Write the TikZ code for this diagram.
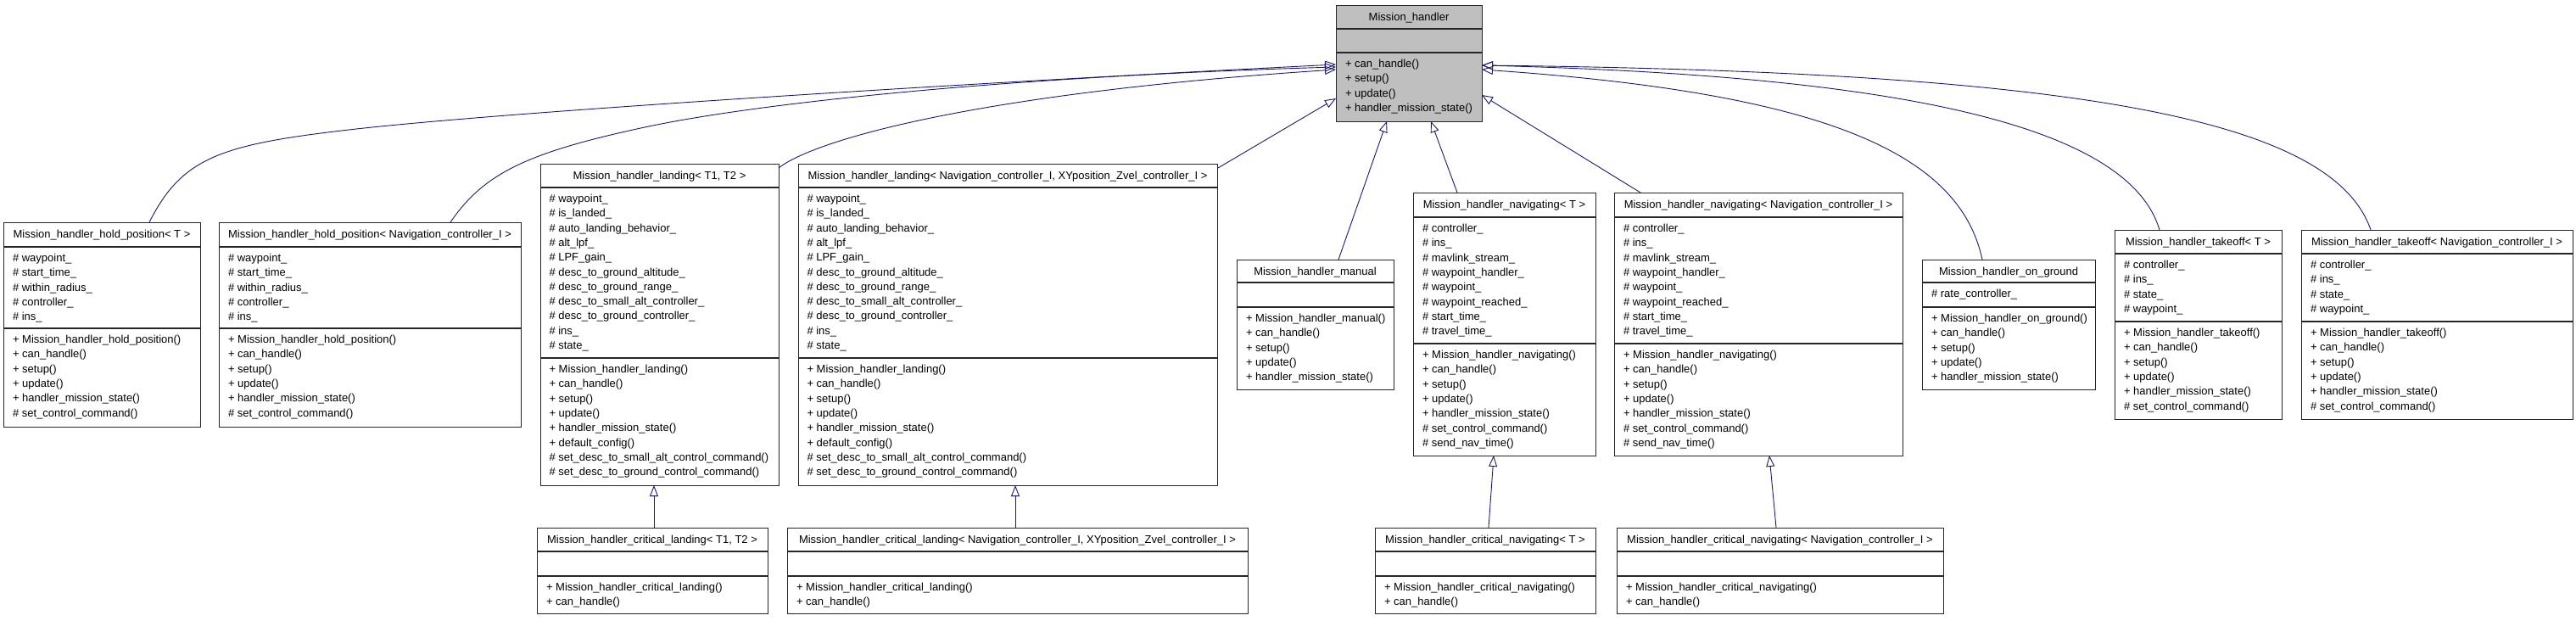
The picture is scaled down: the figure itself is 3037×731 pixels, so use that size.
\documentclass[tikz,border=0pt]{standalone}
\usepackage{fontspec}
\setmainfont{Liberation Sans}
\usetikzlibrary{arrows.meta,calc}
\definecolor{edgeblue}{HTML}{191970}
\definecolor{basegray}{HTML}{BFBFBF}
% #1 fill, #2 name, #3 x1, #4 y1, #5 x2, #6 y2, #7 div1, #8 div2, #9 title
\newcommand\ubox[9][white]{%
  \node[boxst, fill=#1, minimum width={(#5-#3)*1pt}, minimum height={(#6-#4)*1pt}, anchor=north west] (#2) at (#3,#4) {};
  \draw[divst] (#3,#7) -- (#5,#7);
  \draw[divst] (#3,#8) -- (#5,#8);
  \node[txt, anchor=base] (#2-title) at ({(#3+#5)/2},{#4+18}) {#9};
}
% #1 name prefix, #2 x, #3 first baseline, #4 list of lines
\newcommand\ulines[4]{%
  \foreach \myline [count=\i from 0] in {#4} {\node[txt, anchor=base west] (#1-\i) at (#2,{#3+\i*17.3}) {\myline};}
}
\begin{document}
\begin{tikzpicture}[x=1pt,y=-1pt,
  boxst/.style={draw=black!85, line width=1pt, inner sep=0pt, outer sep=0pt},
  divst/.style={draw=black!85, line width=1.2pt},
  txt/.style={inner sep=0pt, outer sep=0pt, font=\fontsize{13}{15}\selectfont},
  inh/.style={draw=edgeblue, line width=0.9pt, -{Triangle[open, length=13pt, width=10pt]}}]
\fill[white] (0,0) rectangle (3037,731);
\useasboundingbox (0,0) rectangle (3037,731);

% base class
\ubox[basegray]{mh}{1575}{6}{1747}{143}{34}{62}{Mission\_handler}
\ulines{mhm}{1586}{79.5}{+ can\_handle(), + setup(), + update(), + handler\_mission\_state()}

% hold position
\ubox{hpT}{4}{262}{236}{503}{291}{387}{Mission\_handler\_hold\_position< T >}
\ulines{hpTa}{15}{308.5}{\# waypoint\_, \# start\_time\_, \# within\_radius\_, \# controller\_, \# ins\_}
\ulines{hpTm}{15}{404.5}{+ Mission\_handler\_hold\_position(), + can\_handle(), + setup(), + update(), + handler\_mission\_state(), \# set\_control\_command()}

\ubox{hpN}{258}{262}{614}{503}{291}{387}{Mission\_handler\_hold\_position< Navigation\_controller\_I >}
\ulines{hpNa}{269}{308.5}{\# waypoint\_, \# start\_time\_, \# within\_radius\_, \# controller\_, \# ins\_}
\ulines{hpNm}{269}{404.5}{+ Mission\_handler\_hold\_position(), + can\_handle(), + setup(), + update(), + handler\_mission\_state(), \# set\_control\_command()}

% landing
\ubox{lT}{637}{193}{918}{572}{221}{422}{Mission\_handler\_landing< T1, T2 >}
\ulines{lTa}{647.5}{238.5}{\# waypoint\_, \# is\_landed\_, \# auto\_landing\_behavior\_, \# alt\_lpf\_, \# LPF\_gain\_, \# desc\_to\_ground\_altitude\_, \# desc\_to\_ground\_range\_, \# desc\_to\_small\_alt\_controller\_, \# desc\_to\_ground\_controller\_, \# ins\_, \# state\_}
\ulines{lTm}{647.5}{439.5}{+ Mission\_handler\_landing(), + can\_handle(), + setup(), + update(), + handler\_mission\_state(), + default\_config(), \# set\_desc\_to\_small\_alt\_control\_command(), \# set\_desc\_to\_ground\_control\_command()}

\ubox{lN}{941}{193}{1435}{572}{221}{422}{Mission\_handler\_landing< Navigation\_controller\_I, XYposition\_Zvel\_controller\_I >}
\ulines{lNa}{951.5}{238.5}{\# waypoint\_, \# is\_landed\_, \# auto\_landing\_behavior\_, \# alt\_lpf\_, \# LPF\_gain\_, \# desc\_to\_ground\_altitude\_, \# desc\_to\_ground\_range\_, \# desc\_to\_small\_alt\_controller\_, \# desc\_to\_ground\_controller\_, \# ins\_, \# state\_}
\ulines{lNm}{951.5}{439.5}{+ Mission\_handler\_landing(), + can\_handle(), + setup(), + update(), + handler\_mission\_state(), + default\_config(), \# set\_desc\_to\_small\_alt\_control\_command(), \# set\_desc\_to\_ground\_control\_command()}

% manual
\ubox{man}{1458}{306}{1643}{459}{333}{362}{Mission\_handler\_manual}
\ulines{manm}{1469}{379.5}{+ Mission\_handler\_manual(), + can\_handle(), + setup(), + update(), + handler\_mission\_state()}

% navigating
\ubox{nT}{1666}{227}{1881}{537}{256}{405}{Mission\_handler\_navigating< T >}
\ulines{nTa}{1677}{273.5}{\# controller\_, \# ins\_, \# mavlink\_stream\_, \# waypoint\_handler\_, \# waypoint\_, \# waypoint\_reached\_, \# start\_time\_, \# travel\_time\_}
\ulines{nTm}{1677}{422.5}{+ Mission\_handler\_navigating(), + can\_handle(), + setup(), + update(), + handler\_mission\_state(), \# set\_control\_command(), \# send\_nav\_time()}

\ubox{nN}{1903}{227}{2243}{537}{256}{405}{Mission\_handler\_navigating< Navigation\_controller\_I >}
\ulines{nNa}{1914}{273.5}{\# controller\_, \# ins\_, \# mavlink\_stream\_, \# waypoint\_handler\_, \# waypoint\_, \# waypoint\_reached\_, \# start\_time\_, \# travel\_time\_}
\ulines{nNm}{1914}{422.5}{+ Mission\_handler\_navigating(), + can\_handle(), + setup(), + update(), + handler\_mission\_state(), \# set\_control\_command(), \# send\_nav\_time()}

% on ground
\ubox{og}{2266}{306}{2470}{459}{333}{362}{Mission\_handler\_on\_ground}
\ulines{oga}{2277}{350.5}{\# rate\_controller\_}
\ulines{ogm}{2277}{379.5}{+ Mission\_handler\_on\_ground(), + can\_handle(), + setup(), + update(), + handler\_mission\_state()}

% takeoff
\ubox{tT}{2493}{271}{2690}{494}{299}{379}{Mission\_handler\_takeoff< T >}
\ulines{tTa}{2504}{316.5}{\# controller\_, \# ins\_, \# state\_, \# waypoint\_}
\ulines{tTm}{2504}{396.5}{+ Mission\_handler\_takeoff(), + can\_handle(), + setup(), + update(), + handler\_mission\_state(), \# set\_control\_command()}

\ubox{tN}{2713}{271}{3033}{494}{299}{379}{Mission\_handler\_takeoff< Navigation\_controller\_I >}
\ulines{tNa}{2724}{316.5}{\# controller\_, \# ins\_, \# state\_, \# waypoint\_}
\ulines{tNm}{2724}{396.5}{+ Mission\_handler\_takeoff(), + can\_handle(), + setup(), + update(), + handler\_mission\_state(), \# set\_control\_command()}

% critical
\ubox{clT}{633}{622}{905}{723}{650}{679}{Mission\_handler\_critical\_landing< T1, T2 >}
\ulines{clTm}{644}{696.5}{+ Mission\_handler\_critical\_landing(), + can\_handle()}
\ubox{clN}{928}{622}{1471}{723}{650}{679}{Mission\_handler\_critical\_landing< Navigation\_controller\_I, XYposition\_Zvel\_controller\_I >}
\ulines{clNm}{939}{696.5}{+ Mission\_handler\_critical\_landing(), + can\_handle()}
\ubox{cnT}{1621}{622}{1881}{723}{650}{679}{Mission\_handler\_critical\_navigating< T >}
\ulines{cnTm}{1632}{696.5}{+ Mission\_handler\_critical\_navigating(), + can\_handle()}
\ubox{cnN}{1906}{622}{2291}{723}{650}{679}{Mission\_handler\_critical\_navigating< Navigation\_controller\_I >}
\ulines{cnNm}{1917}{696.5}{+ Mission\_handler\_critical\_navigating(), + can\_handle()}

% inheritance edges
\draw[inh] ($(hpT.north west)+(172,0)$) .. controls (215,185) and (260,170) .. (420,152) .. controls (600,132) and (1100,100) .. ($(mh.north west)+(0,70)$);
\draw[inh] ($(hpN.north west)+(273,0)$) .. controls (570,205) and (620,180) .. (760,150) .. controls (900,120) and (1200,90) .. ($(mh.north west)+(0,73)$);
\draw[inh] ($(lT.north east)+(0,5)$) .. controls (960,165) and (1150,110) .. ($(mh.north west)+(0,76)$);
\draw[inh] ($(lN.north east)+(1,5)$) -- ($(mh.north west)+(0,110)$);
\draw[inh] ($(man.north west)+(120,0)$) -- ($(mh.south west)+(60,0)$);
\draw[inh] ($(nT.north west)+(52,0)$) -- ($(mh.south west)+(112,0)$);
\draw[inh] ($(nN.north west)+(31,0)$) -- ($(mh.north east)+(0,106)$);
\draw[inh] ($(og.north west)+(71,0)$) .. controls (2310,180) and (2150,110) .. ($(mh.north east)+(0,76)$);
\draw[inh] ($(tT.north west)+(53,0)$) .. controls (2510,150) and (2250,90) .. ($(mh.north east)+(0,71)$);
\draw[inh] ($(tN.north west)+(82,0)$) .. controls (2750,140) and (2450,85) .. ($(mh.north east)+(0,71)$);

\draw[inh] ($(clT.north west)+(138,0)$) -- ($(lT.south west)+(134,0)$);
\draw[inh] ($(clN.north west)+(269,0)$) -- ($(lN.south west)+(256,0)$);
\draw[inh] ($(cnT.north west)+(134,0)$) -- ($(nT.south west)+(95,0)$);
\draw[inh] ($(cnN.north west)+(188,0)$) -- ($(nN.south west)+(183,0)$);
\end{tikzpicture}
\end{document}
